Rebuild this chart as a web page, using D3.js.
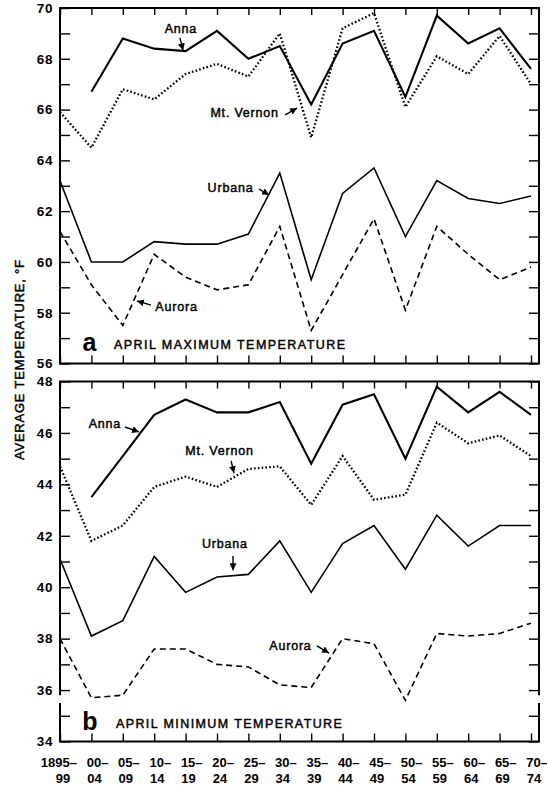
<!DOCTYPE html>
<html><head><meta charset="utf-8">
<script src="https://cdn.jsdelivr.net/npm/d3@7"></script>
<style>
body{margin:0;background:#fff}
svg{display:block}
text{font-family:"Liberation Sans",Arial,Helvetica,sans-serif;fill:#000}
.med{stroke:#000;stroke-width:0.45px}
</style>
</head><body>
<svg id="c" width="547" height="786"></svg>
<script>
// ---------------- DATA ----------------
const periods = ["1895-99","1900-04","1905-09","1910-14","1915-19","1920-24","1925-29","1930-34",
                 "1935-39","1940-44","1945-49","1950-54","1955-59","1960-64","1965-69","1970-74"];
const tickLine1 = ["1895–","00–","05–","10–","15–","20–","25–","30–","35–","40–","45–","50–","55–","60–","65–","70–"];
const tickLine2 = ["99","04","09","14","19","24","29","34","39","44","49","54","59","64","69","74"];

const maxAnna     = [null,66.7,68.8,68.4,68.3,69.1,68.0,68.5,66.2,68.6,69.1,66.5,69.7,68.6,69.2,67.6];
const maxMtVernon = [65.9,64.5,66.8,66.4,67.4,67.8,67.3,69.0,64.9,69.2,69.8,66.1,68.1,67.4,68.9,67.0];
const maxUrbana   = [63.2,60.0,60.0,60.8,60.7,60.7,61.1,63.5,59.3,62.7,63.7,61.0,63.2,62.5,62.3,62.6];
const maxAurora   = [61.2,59.1,57.5,60.3,59.4,58.9,59.1,61.4,57.3,59.5,61.7,58.1,61.4,60.3,59.3,59.8];

const minAnna     = [null,43.5,45.1,46.7,47.3,46.8,46.8,47.2,44.8,47.1,47.5,45.0,47.8,46.8,47.6,46.7];
const minMtVernon = [44.7,41.8,42.4,43.9,44.3,43.9,44.6,44.7,43.2,45.1,43.4,43.6,46.4,45.6,45.9,45.1];
const minUrbana   = [41.1,38.1,38.7,41.2,39.8,40.4,40.5,41.8,39.8,41.7,42.4,40.7,42.8,41.6,42.4,42.4];
const minAurora   = [38.0,35.7,35.8,37.6,37.6,37.0,36.9,36.2,36.1,38.0,37.8,35.6,38.2,38.1,38.2,38.6];

const maxDomain = [56, 70];
const minDomain = [34, 48];
const yTickValuesMax = d3.range(56, 71, 1);
const yTickValuesMin = d3.range(34, 49, 1);

const yTitle = "AVERAGE TEMPERATURE, °F";
const panelTitles = ["APRIL MAXIMUM TEMPERATURE", "APRIL MINIMUM TEMPERATURE"];
const panelLetters = ["a", "b"];

// ---------------- LAYOUT ----------------
const svg = d3.select("#c");
const xLeft = 60, xLastCat = 531, xRight = 539;
const x = d3.scalePoint().domain(periods).range([xLeft, xLastCat]);
const step = x.step();
const fx = f => x(periods[0]) + f * step;

const yMax = d3.scaleLinear().domain(maxDomain).range([363.5, 8]);
const yMin = d3.scaleLinear().domain(minDomain).range([741.5, 381.5]);

const styles = {
  Anna:      {dash: null,      w: 2.1},
  MtVernon:  {dash: "1.6,2.2", w: 2.3},
  Urbana:    {dash: null,      w: 1.6},
  Aurora:    {dash: "6,4",     w: 1.6}
};

// arrow marker
svg.append("defs").append("marker")
  .attr("id","ah").attr("markerUnits","userSpaceOnUse")
  .attr("markerWidth",8).attr("markerHeight",7)
  .attr("refX",7).attr("refY",3.5).attr("orient","auto")
  .append("path").attr("d","M0,0 L7,3.5 L0,7 z").attr("fill","#000");

function drawPanel(y, series, breakVals, letter, title, ann, titlePos) {
  const [y0, y1] = y.range(); // bottom, top
  const g = svg.append("g");

  const fmt = d => (d % 2 === 0 ? d : "");
  const gl = g.append("g").attr("transform", `translate(${xLeft},0)`)
    .call(d3.axisLeft(y).tickValues(y === yMax ? yTickValuesMax : yTickValuesMin).tickSize(-10).tickFormat(fmt).tickPadding(7));
  gl.select(".domain").remove();
  gl.selectAll(".tick line").attr("stroke-width",1.4);
  gl.selectAll(".tick text").style("font-size","13.5px").style("font-weight","bold").attr("letter-spacing","0.6");

  const gr = g.append("g").attr("transform", `translate(${xRight},0)`)
    .call(d3.axisRight(y).tickValues(y === yMax ? yTickValuesMax : yTickValuesMin).tickSize(-10).tickFormat(""));
  gr.select(".domain").remove();
  gr.selectAll(".tick line").attr("stroke-width",1.4);

  const gb = g.append("g").attr("transform", `translate(0,${y0})`)
    .call(d3.axisBottom(x).tickSize(-8).tickFormat(""));
  gb.select(".domain").remove();
  gb.selectAll(".tick line").attr("stroke-width",1.4);
  const gt = g.append("g").attr("transform", `translate(0,${y1})`)
    .call(d3.axisTop(x).tickSize(-7).tickFormat(""));
  gt.select(".domain").remove();
  gt.selectAll(".tick line").attr("stroke-width",1.4);

  // frame
  const fr = g.append("g").attr("stroke","#000").attr("stroke-width",2).attr("fill","none");
  fr.append("line").attr("x1",xLeft-1).attr("x2",xRight+1).attr("y1",y0).attr("y2",y0);
  fr.append("line").attr("x1",xLeft-1).attr("x2",xRight+1).attr("y1",y1).attr("y2",y1);
  [xLeft, xRight].forEach(xx => {
    if (breakVals) {
      fr.append("line").attr("x1",xx).attr("x2",xx).attr("y1",y1).attr("y2",y(breakVals[0]));
      fr.append("line").attr("x1",xx).attr("x2",xx).attr("y1",y(breakVals[1])).attr("y2",y0);
    } else {
      fr.append("line").attr("x1",xx).attr("x2",xx).attr("y1",y1).attr("y2",y0);
    }
  });

  // series
  series.forEach(s => {
    const st = styles[s.key];
    const line = d3.line().defined(d => d != null).x((d,i) => x(periods[i])).y(d => y(d));
    g.append("path").datum(s.values).attr("d", line)
      .attr("fill","none").attr("stroke","#000").attr("stroke-width",st.w)
      .attr("stroke-linejoin","miter")
      .attr("stroke-dasharray", st.dash);
  });

  // annotations
  ann.forEach(a => {
    g.append("text").attr("class","med").attr("x", fx(a.f)).attr("y", y(a.v)).attr("text-anchor","middle")
      .style("font-size","12.5px").attr("letter-spacing","0.8").text(a.text);
    g.append("line").attr("x1", fx(a.arrow[0])).attr("y1", y(a.arrow[1]))
      .attr("x2", fx(a.arrow[2])).attr("y2", y(a.arrow[3]))
      .attr("stroke","#000").attr("stroke-width",1.4).attr("marker-end","url(#ah)");
  });

  // panel letter and title
  g.append("text").attr("x", fx(titlePos.lf)).attr("y", y(titlePos.lv)).attr("text-anchor","middle")
    .style("font-size","25px").style("font-weight","bold").text(letter);
  g.append("text").attr("class","med").attr("x", fx(titlePos.tf)).attr("y", y(titlePos.tv))
    .style("font-size","12.5px").attr("textLength", titlePos.len).attr("lengthAdjust","spacing").text(title);
}

drawPanel(yMax, [
  {key:"Anna", values:maxAnna},
  {key:"MtVernon", values:maxMtVernon},
  {key:"Urbana", values:maxUrbana},
  {key:"Aurora", values:maxAurora}
], null, panelLetters[0], panelTitles[0], [
  {text:"Anna",       f:3.85, v:69.02, arrow:[3.82,68.82,3.92,68.33]},
  {text:"Mt. Vernon", f:5.88, v:65.71, arrow:[7.17,65.79,7.55,66.06]},
  {text:"Urbana",     f:5.43, v:62.75, arrow:[6.34,62.87,6.66,62.64]},
  {text:"Aurora",     f:3.71, v:58.07, arrow:[2.90,58.30,2.45,58.46]}
], {lf:0.94, lv:56.5, tf:1.72, tv:56.57, len:231});

drawPanel(yMin, [
  {key:"Anna", values:minAnna},
  {key:"MtVernon", values:minMtVernon},
  {key:"Urbana", values:minUrbana},
  {key:"Aurora", values:minAurora}
], [35.8, 35.5], panelLetters[1], panelTitles[1], [
  {text:"Anna",       f:1.43, v:46.19, arrow:[2.07,46.23,2.52,46.04]},
  {text:"Mt. Vernon", f:5.08, v:45.14, arrow:[5.45,44.91,5.54,44.44]},
  {text:"Urbana",     f:5.25, v:41.52, arrow:[5.51,41.21,5.51,40.66]},
  {text:"Aurora",     f:7.34, v:37.56, arrow:[8.18,37.72,8.57,37.44]}
], {lf:0.955, lv:34.45, tf:1.78, tv:34.53, len:226});

// x tick labels (two lines)
const xl = svg.append("g").style("font-size","13px").style("font-weight","bold");
periods.forEach((p, i) => {
  xl.append("text").attr("x", x(p) + 17).attr("y", 767).attr("text-anchor","end").text(tickLine1[i]);
  xl.append("text").attr("x", x(p) + 3).attr("y", 783).attr("text-anchor","middle").text(tickLine2[i]);
});

// y title
svg.append("text").attr("class","med").attr("transform","translate(24,360) rotate(-90)")
  .attr("text-anchor","middle").style("font-size","13px")
  .attr("textLength",200).attr("lengthAdjust","spacing").text(yTitle);
</script>
</body></html>
